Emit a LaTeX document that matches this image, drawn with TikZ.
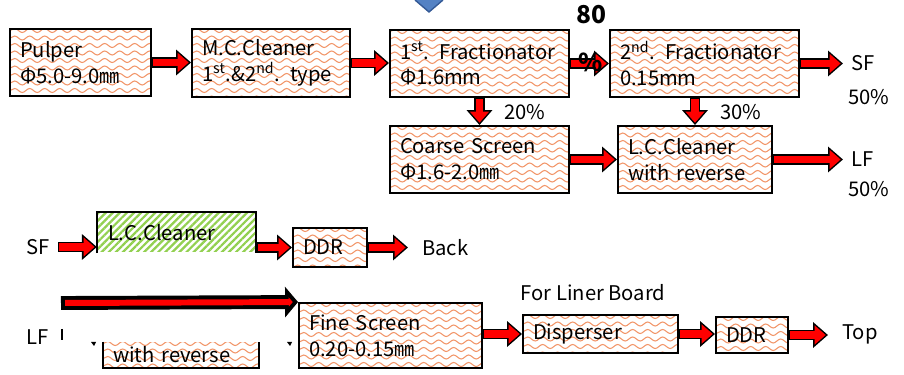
\documentclass[tikz,border=0pt]{standalone}
\usepackage{fontspec}
\setmainfont{Noto Sans CJK JP}
\usetikzlibrary{arrows.meta, positioning, patterns.meta, decorations.pathmorphing}
\definecolor{wavecol}{RGB}{242,150,105}
\definecolor{stripecol}{RGB}{146,208,80}
\definecolor{flowred}{RGB}{255,0,0}
\definecolor{chevfill}{RGB}{84,130,196}
\definecolor{chevline}{RGB}{52,90,150}

\tikzset{
  wave/.style={draw=wavecol, line width=0.6pt, decorate,
    decoration={snake, amplitude=0.4mm, segment length=3mm}},
  wavy/.style={fill=white, path picture={
      \foreach \k in {0,...,16}
        \draw[wave] ([yshift=-\k*1.5mm-0.3mm]path picture bounding box.north west) -- ++(40mm,0);}},
  unit/.style={draw, line width=1.1pt, wavy, inner xsep=2mm, inner ysep=0pt, align=left},
  greenunit/.style={preaction={fill=white}, pattern={Lines[angle=45, distance=1mm, line width=0.45mm]},
    pattern color=stripecol, inner xsep=2mm, inner ysep=0pt, align=left},
  flow/.style={preaction={draw=black, line width=5.7pt, shorten <=0pt, shorten >=0pt,
      -{Triangle[length=3mm, width=5mm]}},
    draw=flowred, line width=4pt, shorten <=0.85pt, shorten >=0.47mm,
    -{Triangle[length=2.2mm, width=3.7mm]}},
  bigflow/.style={preaction={draw=black, line width=7.9pt, shorten <=0pt, shorten >=0pt,
      -{Triangle[length=2.6mm, width=6mm]}},
    draw=flowred, line width=3.4pt, shorten <=2.3pt, shorten >=1.06mm,
    -{Triangle[length=0.8mm, width=1.8mm]}},
  lbl/.style={inner sep=1.6mm},
  pct/.style={font=\bfseries\fontsize{14}{16}\selectfont, inner sep=0pt},
}

\begin{document}
\begin{tikzpicture}[x=0.02cm, y=-0.02cm, font=\fontsize{11.5}{14.7}\selectfont]
  \useasboundingbox (0,0) rectangle (904,375);

  % top row
  \fill[chevfill] (415,0) -- (443,0) -- (429,12) -- cycle;
  \draw[chevline, line width=0.8pt] (415,0) -- (429,12) -- (443,0);

  \node[unit, text width=24.2mm, minimum height=13.4mm] (pulper) at (80.5,62.5)
    {Pulper\\Φ5.0-9.0㎜};
  \node[unit, text width=27.6mm, minimum height=13.6mm] (mcc) at (271,63)
    {M.C.Cleaner\\1\textsuperscript{st}.\&2\textsuperscript{nd}. type};
  \node[unit, text width=31.8mm, minimum height=13.4mm] (frac1) at (479.5,63.5)
    {1\textsuperscript{st}. Fractionator\\Φ1.6mm};
  \node[unit, text width=33.8mm, minimum height=13.4mm] (frac2) at (704.5,63.5)
    {2\textsuperscript{nd}. Fractionator\\0.15mm};
  \node[unit, text width=31.8mm, minimum height=13.4mm] (coarse) at (479.5,159.5)
    {Coarse Screen\\Φ1.6-2.0㎜};
  \node[unit, text width=26.8mm, minimum height=13.4mm] (lcc) at (695,159.5)
    {L.C.Cleaner\\with reverse};

  \node[lbl, anchor=west] (sfout) at (843,63.5) {SF};
  \node[anchor=west] at (842,97) {50\%};
  \node[lbl, anchor=west] (lfout) at (843,159.5) {LF};
  \node[anchor=west] at (842,189) {50\%};
  \node[pct] at (591,15) {80};
  \node[anchor=west] at (498,112) {20\%};
  \node[anchor=west] at (714,112) {30\%};

  \draw[flow] (pulper.east) -- (pulper.east -| mcc.west);
  \draw[flow] (mcc.east) -- (mcc.east -| frac1.west);
  \draw[flow] (frac1.east) -- (frac1.east -| frac2.west);
  \draw[flow] (frac2.east) -- (frac2.east -| sfout.west);
  \draw[flow] (frac1.south) -- (coarse.north);
  \draw[flow] (frac2.south -| lcc.north) -- (lcc.north);
  \draw[flow] (coarse.east) -- (coarse.east -| lcc.west);
  \draw[flow] (lcc.east) -- (lcc.east -| lfout.west);
  \node[pct] at (591,62) {\%};

  % SF line
  \node[lbl, anchor=east] (sfin) at (58,247) {SF};
  \node[greenunit, text width=27.4mm, minimum height=7.8mm] (lcg) at (176.5,232.5) {L.C.Cleaner};
  \draw[line width=1.1pt] (lcg.south west) -- (lcg.north west) -- (lcg.north east) -- (lcg.south east);
  \node[unit, text width=10.8mm, minimum height=7.8mm] (ddra) at (330,247.5) {DDR};
  \node[anchor=west, inner xsep=2.8mm] (back) at (408,247.5) {Back};
  \draw[flow] (sfin.east) -- (sfin.east -| lcg.west);
  \draw[flow] (ddra.west -| lcg.east) -- (ddra.west);
  \draw[flow] (ddra.east) -- (ddra.east -| back.west);

  % LF line
  \node[lbl] (lfin) at (38,337) {LF};
  \draw[line width=1pt] (62,329) -- (62,340);
  \fill (91,342) -- (96,342) -- (94,346) -- cycle;
  \fill (287,342) -- (292,342) -- (290,346) -- cycle;
  \node[wavy, text width=27.2mm, minimum height=5.2mm, inner xsep=2mm, inner ysep=0pt,
    align=left] (wrev) at (181,355) {with reverse};
  \draw[line width=1.1pt] (wrev.north west) -- (wrev.south west) -- (wrev.south east) -- (wrev.north east);
  \node[unit, text width=32.6mm, minimum height=13mm] (fine) at (390.5,335.5)
    {Fine Screen\\0.20-0.15㎜};
  \node[unit, text width=27mm, minimum height=7.6mm] (disp) at (600.5,334) {Disperser};
  \node[unit, text width=10.4mm, minimum height=7.2mm] (ddrb) at (752,335) {DDR};
  \node (liner) at (593,293) {For Liner Board};
  \node[anchor=west, inner xsep=2.8mm] (top) at (828,334) {Top};
  \coordinate (lfstart) at (61,303);
  \draw[bigflow] (lfstart) -- (fine.north west);
  \draw[flow] (fine.east |- disp.west) -- (disp.west);
  \draw[flow] (disp.east) -- (disp.east -| ddrb.west);
  \draw[flow] (ddrb.east) -- (ddrb.east -| top.west);
\end{tikzpicture}
\end{document}
